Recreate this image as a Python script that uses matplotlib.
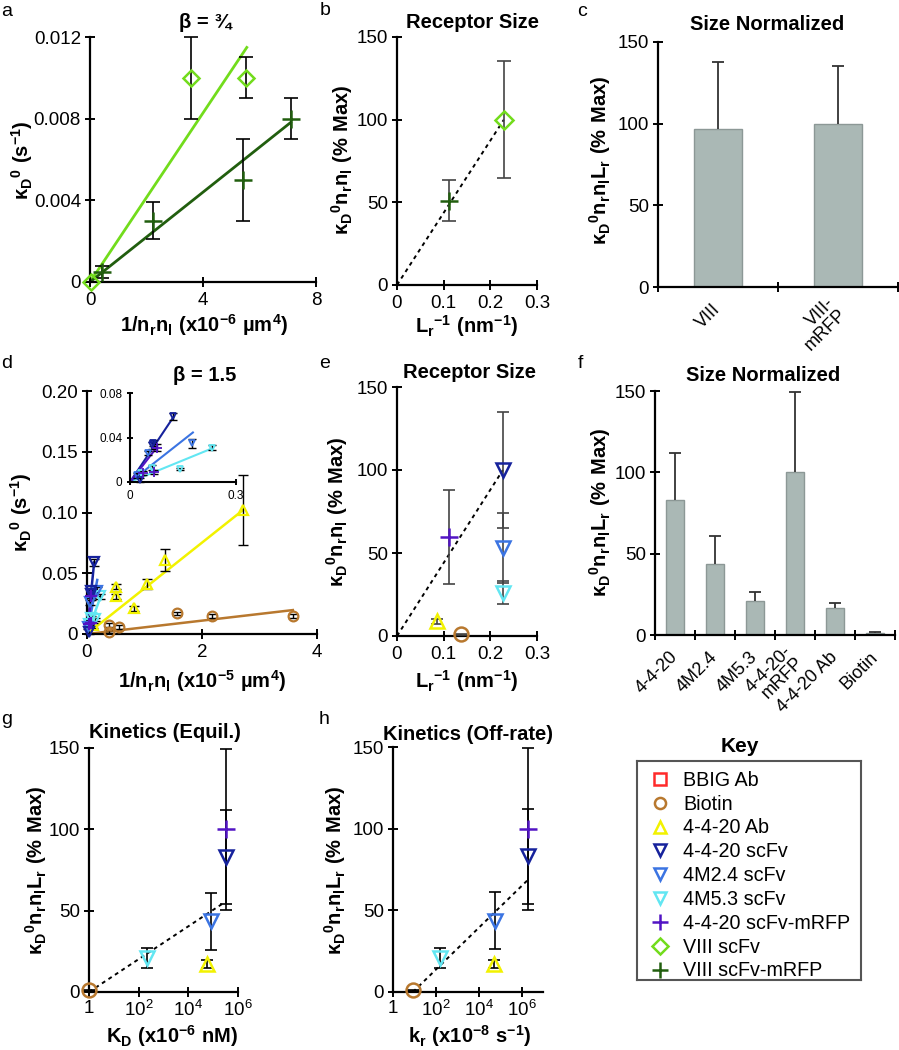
import matplotlib
matplotlib.use('Agg')
import matplotlib.pyplot as plt
import numpy as np
from matplotlib.lines import Line2D

plt.rcParams['font.family'] = ['Liberation Sans', 'DejaVu Sans']
plt.rcParams['mathtext.fontset'] = 'custom'
plt.rcParams['mathtext.rm'] = 'Liberation Sans'
plt.rcParams['mathtext.bf'] = 'Liberation Sans:bold'

# colours of the key
C_BBIG = '#ff2a2a'
C_BIOTIN = '#b8782e'
C_AB = '#f2f200'
C_420 = '#16229c'
C_4M24 = '#3b74e2'
C_4M53 = '#62e6f2'
C_MRFP = '#5214c4'
C_VIII = '#72dc1c'
C_VIIIM = '#215e0e'
BAR = '#aab8b5'

# ---- panel a ----
a_viii_x = [0.05, 3.57, 5.52]
a_viii_y = [0.0, 0.0100, 0.0100]
a_viii_err = [0.0, 0.0020, 0.0010]
a_viiim_x = [0.42, 2.23, 5.41, 7.10]
a_viiim_y = [0.0005, 0.0030, 0.0050, 0.0080]
a_viiim_err = [0.0003, 0.0009, 0.0020, 0.0010]
a_fit_slope = [0.00207, 0.0011]
a_fit_xmax = [5.55, 7.10]

# ---- panel b ----
b_x = [0.111, 0.229]
b_y = [51, 100]
b_err = [12.5, 35.5]
b_fit_slope = 100 / 0.229

# ---- panel c ----
c_cats = ['VIII', 'VIII-\nmRFP']
c_vals = [96.5, 100]
c_err = [41.5, 35]

# ---- panel d ----
d_ab_x = [0.10, 0.50, 0.50, 0.82, 1.05, 1.36, 2.71]
d_ab_y = [0.007, 0.039, 0.031, 0.021, 0.041, 0.061, 0.102]
d_ab_err = [0.002, 0.002, 0.002, 0.002, 0.004, 0.009, 0.029]
d_bio_x = [0.38, 0.38, 0.56, 1.56, 2.17, 3.58]
d_bio_y = [0.0074, 0.0020, 0.0058, 0.017, 0.015, 0.015]
d_bio_err = [0.0015, 0.0015, 0.0015, 0.0015, 0.0015, 0.0015]
d_420_x = [0.028, 0.063, 0.065, 0.122]
d_420_y = [0.002, 0.033, 0.035, 0.059]
d_420_err = [0.002, 0.003, 0.003, 0.003]
d_4m24_x = [0.020, 0.052, 0.175]
d_4m24_y = [0.006, 0.026, 0.035]
d_4m24_err = [0.002, 0.002, 0.004]
d_4m53_x = [0.030, 0.062, 0.141, 0.232]
d_4m53_y = [0.008, 0.013, 0.012, 0.031]
d_4m53_err = [0.002, 0.002, 0.001, 0.002]
d_mrfp_x = [0.037, 0.068, 0.076]
d_mrfp_y = [0.008, 0.009, 0.031]
d_mrfp_err = [0.002, 0.002, 0.003]
d_fit_slope = {'ab': 0.0376, 'bio': 0.0055, '420': 0.475, '4m24': 0.25, '4m53': 0.13, 'mrfp': 0.41}
d_fit_xmax = {'ab': 2.71, 'bio': 3.58, '420': 0.124, '4m24': 0.178, '4m53': 0.232, 'mrfp': 0.076}

# ---- panel e ----
e_x = {'mrfp': 0.111, '420': 0.227, '4m24': 0.227, '4m53': 0.227, 'ab': 0.086, 'bio': 0.137}
e_y = {'mrfp': 59.6, '420': 100, '4m24': 53, '4m53': 26, 'ab': 9, 'bio': 1}
e_err = {'mrfp': 28.5, '420': 35, '4m24': 21, '4m53': 7, 'ab': 1.5, 'bio': 0.5}
e_fit_slope = 100 / 0.227

# ---- panel f ----
f_cats = ['4-4-20', '4M2.4', '4M5.3', '4-4-20-\nmRFP', '4-4-20 Ab', 'Biotin']
f_vals = [83, 43.6, 21, 100, 16.8, 1.2]
f_err = [29, 17.5, 5.6, 49.6, 3.1, 0.4]

# ---- panels g, h ----
g_x = {'bio': 1, '4m53': 220, 'ab': 5.6e4, '4m24': 7.9e4, '420': 3.3e5, 'mrfp': 3.3e5}
h_x = {'bio': 8.5, '4m53': 155, 'ab': 5.0e4, '4m24': 5.5e4, '420': 2.1e6, 'mrfp': 2.1e6}
gh_y = {'bio': 1, '4m53': 21, 'ab': 17, '4m24': 43.6, '420': 83, 'mrfp': 100}
gh_err = {'bio': 0.5, '4m53': 6, 'ab': 2.5, '4m24': 17.5, '420': 29, 'mrfp': 49.5}
g_fit_x = [1, 2.8e5]
g_fit_y = [0, 55]
h_fit_x = [8.5, 2.1e6]
h_fit_y = [0, 69]

key_labels = ['BBIG Ab', 'Biotin', '4-4-20 Ab', '4-4-20 scFv', '4M2.4 scFv',
              '4M5.3 scFv', '4-4-20 scFv-mRFP', 'VIII scFv', 'VIII scFv-mRFP']
key_colors = [C_BBIG, C_BIOTIN, C_AB, C_420, C_4M24, C_4M53, C_MRFP, C_VIII, C_VIIIM]
key_markers = ['s', 'o', '^', 'v', 'v', 'v', '+', 'D', '+']

STY = {'ab': (C_AB, '^'), 'bio': (C_BIOTIN, 'o'), '420': (C_420, 'v'),
       '4m24': (C_4M24, 'v'), '4m53': (C_4M53, 'v'), 'mrfp': (C_MRFP, '+')}

W, H = 899, 1050
fig = plt.figure(figsize=(W / 100, H / 100), dpi=100)


def px_axes(l, t, r, b):
    return fig.add_axes([l / W, 1 - b / H, (r - l) / W, (b - t) / H])


def ftext(x, y, s, **kw):
    return fig.text(x / W, 1 - y / H, s, **kw)


def style(ax, lw=1.6, size=13.5, length=7):
    ax.spines['top'].set_visible(False)
    ax.spines['right'].set_visible(False)
    ax.spines['left'].set_linewidth(lw)
    ax.spines['bottom'].set_linewidth(lw)
    ax.tick_params(direction='inout', length=length, width=1.4, labelsize=size, pad=3)
    ax.tick_params(axis='x', pad=4)
    ax.patch.set_alpha(0)


def pts(ax, x, y, err, color, marker, ms, ecol='black', cap=5, elw=1.2, mew=1.8):
    ax.errorbar(x, y, yerr=err, fmt='none', ecolor=ecol, elinewidth=elw,
                capsize=cap, capthick=elw, zorder=3, clip_on=False)
    if marker == '+':
        ms = ms * 1.3
    ax.plot(x, y, ls='none', marker=marker, ms=ms, mfc='none', mec=color,
            mew=mew, zorder=4, clip_on=False)


def fitline(ax, slope, xmax, color, lw=2.0, ls='-'):
    xs = np.array([0, xmax])
    ax.plot(xs, slope * xs, color=color, lw=lw, ls=ls, zorder=2)


BOLD = dict(fontsize=14.5, fontweight='bold')
KD0 = r'κ_D{}^0'

# ================= a =================
ax = px_axes(90, 37, 316, 282)
style(ax)
for s, xm, c in zip(a_fit_slope, a_fit_xmax, [C_VIII, C_VIIIM]):
    fitline(ax, s, xm, c)
pts(ax, a_viii_x, a_viii_y, a_viii_err, C_VIII, 'D', 8)
pts(ax, a_viiim_x, a_viiim_y, a_viiim_err, C_VIIIM, '+', 10)
ax.set_xlim(0, 8)
ax.set_ylim(0, 0.012)
ax.set_xticks([0, 4, 8])
ax.set_xticklabels(['0', '4', '8'])
ax.set_yticks([0, 0.004, 0.008, 0.012])
ax.set_yticklabels(['0', '0.004', '0.008', '0.012'])
ftext(205, 22, 'β = ¾', ha='center', va='center', **BOLD)
ftext(22, 160, r'$\mathregular{' + KD0 + r'\ (s^{-1})}$', rotation=90, ha='center', va='center', **BOLD)
ftext(204, 325, r'$\mathregular{1/n_rn_l\ (x10^{-6}\ µm^4)}$', ha='center', va='center', **BOLD)

# ================= b =================
ax = px_axes(397, 37, 537, 285)
style(ax)
fitline(ax, b_fit_slope, b_x[1], 'black', lw=1.4, ls=(0, (2, 2)))
pts(ax, [b_x[0]], [b_y[0]], [b_err[0]], C_VIIIM, '+', 10, ecol='#444444')
pts(ax, [b_x[1]], [b_y[1]], [b_err[1]], C_VIII, 'D', 9, ecol='#444444')
ax.set_xlim(0, 0.3)
ax.set_ylim(0, 150)
ax.set_xticks([0, 0.1, 0.2, 0.3])
ax.set_xticklabels(['0', '0.1', '0.2', '0.3'])
ax.set_yticks([0, 50, 100, 150])
ftext(472, 22, 'Receptor Size', ha='center', va='center', **BOLD)
ftext(342, 160, r'$\mathregular{' + KD0 + r'n_rn_l\ (\%\ Max)}$', rotation=90, ha='center', va='center', **BOLD)
ftext(467, 326, r'$\mathregular{L_r{}^{-1}\ (nm^{-1})}$', ha='center', va='center', **BOLD)


def bars(ax, cats, vals, err, width):
    pos = np.arange(len(cats)) + 0.5
    tops = np.array(vals) + np.array(err)
    ax.bar(pos, vals, width=width, color=BAR, edgecolor='#8c9896', linewidth=1.0, zorder=2)
    ax.vlines(pos, vals, tops, color='#333333', lw=1.3, zorder=3)
    ax.plot(pos, tops, ls='none', marker='_', ms=8, mew=1.3, color='#333333', zorder=3)
    ax.set_xlim(0, len(cats))
    ax.set_ylim(0, 150)
    ax.set_xticks(np.arange(len(cats) + 1))
    ax.set_xticklabels([])
    ax.set_xticks(pos, minor=True)
    ax.set_xticklabels(cats, minor=True, rotation=45, ha='right', va='center',
                       rotation_mode='anchor', fontsize=13, linespacing=0.95)
    ax.tick_params(axis='x', which='minor', length=0, pad=14)
    ax.set_yticks([0, 50, 100, 150])


# ================= c =================
ax = px_axes(658, 42, 898, 287)
style(ax)
bars(ax, c_cats, c_vals, c_err, 0.4)
ftext(767, 25, 'Size Normalized', ha='center', va='center', **BOLD)
ftext(600, 160, r'$\mathregular{' + KD0 + r'n_rn_lL_r\ (\%\ Max)}$', rotation=90, ha='center', va='center', **BOLD)

# ================= d =================
ax = px_axes(87, 391, 317, 634)
style(ax)
d_data = {'ab': (d_ab_x, d_ab_y, d_ab_err), 'bio': (d_bio_x, d_bio_y, d_bio_err),
          '420': (d_420_x, d_420_y, d_420_err), '4m24': (d_4m24_x, d_4m24_y, d_4m24_err),
          '4m53': (d_4m53_x, d_4m53_y, d_4m53_err), 'mrfp': (d_mrfp_x, d_mrfp_y, d_mrfp_err)}
for k in ['bio', 'ab', '4m53', '4m24', '420', 'mrfp']:
    c, m = STY[k]
    fitline(ax, d_fit_slope[k], d_fit_xmax[k], c, lw=1.8)
    x, y, e = d_data[k]
    pts(ax, x, y, e, c, m, 7, cap=3.5, elw=1.0, mew=1.6)
ax.set_xlim(0, 4)
ax.set_ylim(0, 0.20)
ax.set_xticks([0, 2, 4])
ax.set_yticks([0, 0.05, 0.10, 0.15, 0.20])
ax.set_yticklabels(['0', '0.05', '0.10', '0.15', '0.20'])
ftext(205, 375, 'β = 1.5', ha='center', va='center', **BOLD)
ftext(21, 512, r'$\mathregular{' + KD0 + r'\ (s^{-1})}$', rotation=90, ha='center', va='center', **BOLD)
ftext(202, 681, r'$\mathregular{1/n_rn_l\ (x10^{-5}\ µm^4)}$', ha='center', va='center', **BOLD)

# inset
ins = px_axes(130, 393, 236, 482)
style(ins, lw=1.5, size=8.5, length=5)
ins.tick_params(axis='x', pad=3)
for k in ['4m53', '4m24', '420', 'mrfp']:
    c, m = STY[k]
    fitline(ins, d_fit_slope[k], d_fit_xmax[k], c, lw=1.5)
    x, y, e = d_data[k]
    pts(ins, x, y, e, c, m, 5, cap=3, elw=1.0, mew=1.3)
ins.set_xlim(0, 0.3)
ins.set_ylim(0, 0.08)
ins.set_xticks([0, 0.3])
ins.set_xticklabels(['0', '0.3'])
ins.set_yticks([0, 0.04, 0.08])
ins.set_yticklabels(['0', '0.04', '0.08'])

# ================= e =================
ax = px_axes(397, 387, 537, 636)
style(ax)
fitline(ax, e_fit_slope, e_x['420'], 'black', lw=1.4, ls=(0, (2, 2)))
for k in ['mrfp', '420', '4m24', '4m53', 'ab', 'bio']:
    c, m = STY[k]
    pts(ax, [e_x[k]], [e_y[k]], [e_err[k]], c, m, 10, ecol='#444444', cap=4)
ax.set_xlim(0, 0.3)
ax.set_ylim(0, 150)
ax.set_xticks([0, 0.1, 0.2, 0.3])
ax.set_xticklabels(['0', '0.1', '0.2', '0.3'])
ax.set_yticks([0, 50, 100, 150])
ftext(470, 372, 'Receptor Size', ha='center', va='center', **BOLD)
ftext(337, 512, r'$\mathregular{' + KD0 + r'n_rn_l\ (\%\ Max)}$', rotation=90, ha='center', va='center', **BOLD)
ftext(467, 681, r'$\mathregular{L_r{}^{-1}\ (nm^{-1})}$', ha='center', va='center', **BOLD)

# ================= f =================
ax = px_axes(655, 391, 895, 635)
style(ax)
bars(ax, f_cats, f_vals, f_err, 0.46)
ftext(763, 375, 'Size Normalized', ha='center', va='center', **BOLD)
ftext(600, 512, r'$\mathregular{' + KD0 + r'n_rn_lL_r\ (\%\ Max)}$', rotation=90, ha='center', va='center', **BOLD)


# ================= g, h =================
def kin(ax, xs, fx, fy, xmax):
    style(ax)
    ax.tick_params(axis='x', pad=2)
    ax.set_xscale('log')
    ax.plot(fx, fy, color='black', lw=1.4, ls=(0, (2, 2)), zorder=2)
    for k in ['bio', '4m53', 'ab', '4m24', '420', 'mrfp']:
        c, m = STY[k]
        pts(ax, [xs[k]], [gh_y[k]], [gh_err[k]], c, m, 10, cap=4)
    ax.set_xlim(1, xmax)
    ax.set_ylim(0, 150)
    ax.set_xticks([1, 1e2, 1e4, 1e6])
    ax.set_xticklabels(['1', r'$\mathregular{10^2}$', r'$\mathregular{10^4}$', r'$\mathregular{10^6}$'])
    ax.xaxis.set_minor_locator(matplotlib.ticker.NullLocator())
    ax.set_yticks([0, 50, 100, 150])


ax = px_axes(89, 748, 238, 992)
kin(ax, g_x, g_fit_x, g_fit_y, 1e6)
ftext(165, 733, 'Kinetics (Equil.)', ha='center', va='center', **BOLD)
ftext(36, 870, r'$\mathregular{' + KD0 + r'n_rn_lL_r\ (\%\ Max)}$', rotation=90, ha='center', va='center', **BOLD)
ftext(172, 1036, r'$\mathregular{K_D\ (x10^{-6}\ nM)}$', ha='center', va='center', **BOLD)

ax = px_axes(393, 747, 543, 992)
kin(ax, h_x, h_fit_x, h_fit_y, 1e7)
ftext(468, 735, 'Kinetics (Off-rate)', ha='center', va='center', **BOLD)
ftext(335, 870, r'$\mathregular{' + KD0 + r'n_rn_lL_r\ (\%\ Max)}$', rotation=90, ha='center', va='center', **BOLD)
ftext(470, 1036, r'$\mathregular{k_r\ (x10^{-8}\ s^{-1})}$', ha='center', va='center', **BOLD)

# ================= key =================
kax = px_axes(637, 761, 861, 980)
kax.set_xticks([])
kax.set_yticks([])
for s in kax.spines.values():
    s.set_color('#555555')
    s.set_linewidth(1.5)
handles = [Line2D([], [], ls='none', marker=m, mfc='none', mec=c, mew=1.8,
                  ms=(12 if m == '+' else 8)) for m, c in zip(key_markers, key_colors)]
kax.legend(handles, key_labels, loc='upper left', bbox_to_anchor=(0, 1.014), frameon=False,
           fontsize=14.2, handlelength=1.0, handletextpad=0.7, borderpad=0.65,
           borderaxespad=0, labelspacing=0.245)
ftext(740, 747, 'Key', ha='center', va='center', fontsize=15, fontweight='bold')

# panel letters
for lab, x, y in [('a', 1, 16), ('b', 320, 15), ('c', 577, 16), ('d', 1, 368),
                  ('e', 319, 368), ('f', 578, 368), ('g', 1, 724), ('h', 319, 724)]:
    ftext(x, y, lab, ha='left', va='baseline', fontsize=14)

fig.savefig('out.png', dpi=100)
